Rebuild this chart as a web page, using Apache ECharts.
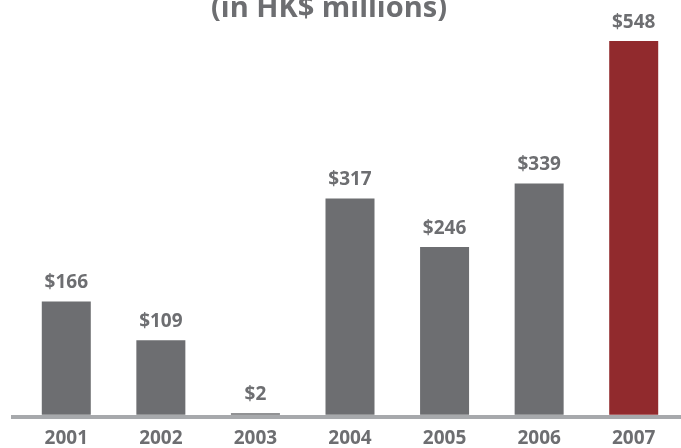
<!DOCTYPE html>
<html>
<head>
<meta charset="utf-8">
<script src="https://cdn.jsdelivr.net/npm/echarts@6/dist/echarts.min.js"></script>
<style>
  html, body { margin: 0; padding: 0; background: #ffffff; }
  #chart { width: 681px; height: 448px; }
</style>
</head>
<body>
<div id="chart"></div>
<script>
// Annual figures, HK$ millions
const years = ['2001', '2002', '2003', '2004', '2005', '2006', '2007'];
const values = [166, 109, 2, 317, 246, 339, 548];
const titleText = '(in HK$ millions)';

const GRAY = '#6d6e71';
const RED = '#912a2d';
const RULE = '#a7a9ac';
const FONT = '"Open Sans", "Noto Sans", sans-serif';

const lastIndex = values.length - 1;
const barData = values.map((v, i) => ({
  value: v,
  itemStyle: { color: i === lastIndex ? RED : GRAY }
}));

const chart = echarts.init(document.getElementById('chart'), null, { renderer: 'canvas' });
chart.setOption({
  animation: false,
  backgroundColor: '#ffffff',
  title: {
    text: titleText,
    left: 206,
    top: -11,
    textStyle: { color: GRAY, fontFamily: FONT, fontWeight: 'bold', fontSize: 29 }
  },
  grid: { left: 19, right: -2, top: 41, bottom: 33.3, containLabel: false },
  xAxis: {
    type: 'category',
    data: years,
    axisLine: { show: false },
    axisTick: { show: false },
    axisLabel: {
      margin: 14,
      color: GRAY,
      fontFamily: FONT,
      fontWeight: 'bold',
      fontSize: 19
    }
  },
  yAxis: {
    type: 'value',
    min: 0,
    max: 548,
    show: false,
    splitLine: { show: false }
  },
  series: [{
    type: 'bar',
    data: barData,
    barWidth: 49,
    label: {
      show: true,
      position: 'top',
      distance: 9,
      formatter: p => '$' + p.value,
      color: GRAY,
      fontFamily: FONT,
      fontWeight: 'bold',
      fontSize: 19
    }
  }],
  graphic: [{
    type: 'rect',
    left: 11,
    top: 415,
    z: -1,
    shape: { width: 670, height: 4 },
    style: { fill: RULE }
  }]
});
</script>
</body>
</html>
